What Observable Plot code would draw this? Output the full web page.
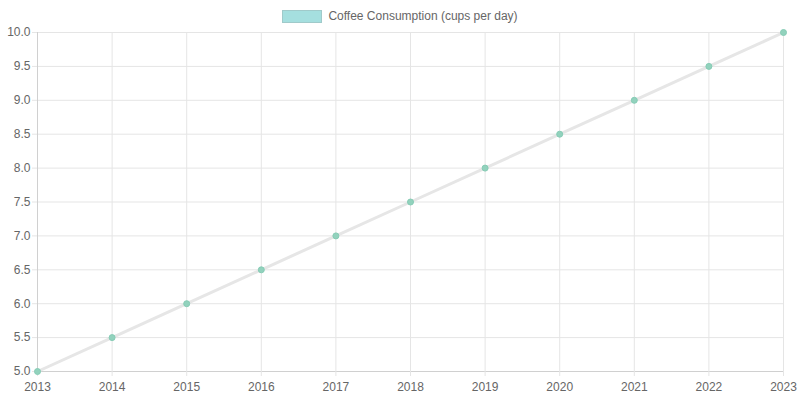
<!DOCTYPE html>
<html>
<head>
<meta charset="utf-8">
<script src="https://cdn.jsdelivr.net/npm/d3@7"></script>
<script src="https://cdn.jsdelivr.net/npm/@observablehq/plot@0.6"></script>
<style>
  body { margin: 0; background: #fff; font-family: "Liberation Sans", Arial, sans-serif; }
  #legend { height: 24px; display: flex; align-items: center; justify-content: center; font-size: 12px; color: #666; }
  #legend .inner { position: relative; top: 4px; display: flex; align-items: center; }
  #legend .box { width: 38px; height: 11px; background: rgba(75,192,192,0.5); border: 1px solid rgba(160,200,200,0.9); margin-right: 6px; }
  svg { display: block; }
</style>
</head>
<body>
<div id="legend"><div class="inner"><span class="box"></span><span>Coffee Consumption (cups per day)</span></div></div>
<div id="chart"></div>
<script>
const years = [2013, 2014, 2015, 2016, 2017, 2018, 2019, 2020, 2021, 2022, 2023];
const cups = [5.0, 5.5, 6.0, 6.5, 7.0, 7.5, 8.0, 8.5, 9.0, 9.5, 10.0];
const yTicks = [5.0, 5.5, 6.0, 6.5, 7.0, 7.5, 8.0, 8.5, 9.0, 9.5, 10.0];

const data = years.map((y, i) => ({year: y, value: cups[i]}));

const chart = Plot.plot({
  width: 800,
  height: 376,
  marginTop: 8,
  marginBottom: 29,
  marginLeft: 37,
  marginRight: 17,
  style: { fontFamily: "Liberation Sans, Arial, sans-serif", fontSize: "12px", color: "#666", background: "#fff" },
  x: { type: "linear", domain: [2013, 2023], ticks: years, tickFormat: d => String(d), label: null, tickSize: 5, tickPadding: 6 },
  y: { domain: [5, 10], ticks: yTicks, tickFormat: d => d.toFixed(1), label: null, tickSize: 5, tickPadding: 2 },
  marks: [
    Plot.gridX(years, { stroke: "#e5e5e5", strokeOpacity: 1 }),
    Plot.gridY(yTicks, { stroke: "#e5e5e5", strokeOpacity: 1 }),
    Plot.ruleX([2013], { stroke: "#d0d0d0" }),
    Plot.ruleY([5], { stroke: "#d0d0d0" }),
    Plot.axisX({ ticks: years, tickFormat: d => String(d), tickSize: 5, tickPadding: 6, stroke: "#e5e5e5", fill: "#666" }),
    Plot.axisY({ ticks: yTicks, tickFormat: d => d.toFixed(1), tickSize: 5, tickPadding: 2, stroke: "#e5e5e5", fill: "#666" }),
    Plot.line(data, { x: "year", y: "value", stroke: "#e6e6e6", strokeWidth: 3 }),
    Plot.dot(data, { x: "year", y: "value", r: 3, fill: "#92d2bd", stroke: "#86ccb5", strokeWidth: 1 })
  ]
});
document.getElementById("chart").appendChild(chart);
</script>
</body>
</html>
